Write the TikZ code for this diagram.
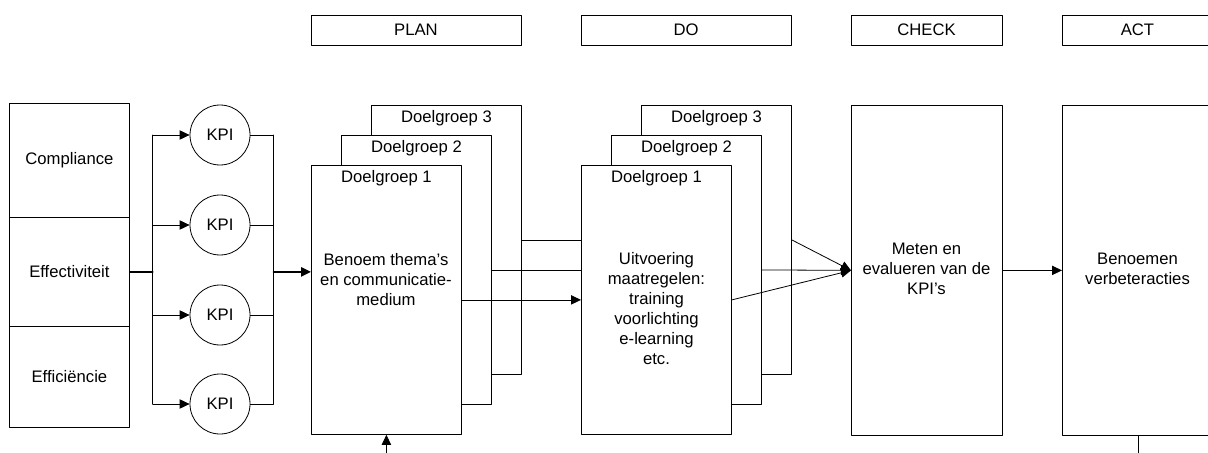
\documentclass[tikz,border=0pt]{standalone}
\usepackage{fontspec}
\setmainfont{Liberation Sans}
\usetikzlibrary{arrows.meta,shapes,positioning,calc}

\begin{document}
\begin{tikzpicture}[x=0.75pt,y=-0.75pt,line cap=round,line join=round,
        >={Triangle[length=7.5pt,width=7pt]},line width=0.6pt,
        every node/.style={font=\fontsize{12.5}{15}\selectfont},
        hdr/.style={draw,rectangle,minimum height=22.5pt,inner sep=0pt},
        cell/.style={draw,rectangle,minimum width=90pt,inner sep=0pt,anchor=north west},
        kpi/.style={draw,circle,minimum size=45pt,inner sep=0pt},
        stack/.style={draw,fill=white,rectangle,minimum width=112.5pt,minimum height=201.75pt,inner sep=0pt,anchor=north west},
        phase/.style={draw,rectangle,minimum width=113.25pt,minimum height=247.5pt,inner sep=0pt,anchor=north west},
        txt/.style={align=center,inner sep=0pt}]

        % --- Frame ---
        \useasboundingbox (0,0) rectangle (1208,453);
        \clip (0,0) rectangle (1208,453);

        % Phase headers
        \node[hdr,minimum width=157.5pt] (hPlan) at (416,30) {PLAN};
        \node[hdr,minimum width=157.5pt] (hDo) at (686,30) {DO};
        \node[hdr,minimum width=113.25pt] (hCheck) at (926.5,30) {CHECK};
        \node[hdr,minimum width=113.25pt] (hAct) at (1137.5,30) {ACT};

        % Aspects
        \node[cell,minimum height=85.5pt] (comp) at (9,103) {Compliance};
        \node[cell,minimum height=81.75pt] (eff) at (9,217) {Effectiviteit};
        \node[cell,minimum height=75.75pt] (effc) at (9,326) {Effici\"encie};

        % KPI's
        \foreach \i/\y in {1/135,2/225,3/315,4/404}
            \node[kpi] (kpi\i) at (220,\y) {KPI};

        \coordinate (lbus) at ($(eff.east)+(23,0)$);
        \coordinate (rbus) at ($(kpi1.east)+(23,0)$);
        \coordinate (rmid) at (rbus |- eff.east);

        \draw[line width=1.2pt] (eff.east) -- (lbus);
        \draw (lbus |- kpi1) -- (lbus |- kpi4);
        \draw (rbus |- kpi1) -- (rbus |- kpi4);
        \foreach \i in {1,...,4} {
            \draw[->] (lbus |- kpi\i) -- (kpi\i);
            \draw (kpi\i) -- (rbus |- kpi\i);
        }

        % Plan stack
        \node[stack] (planC) at (371,105) {};
        \node[stack] (planB) at (341,135) {};
        \node[stack] (planA) at (311,165) {};
        \node (planCl) at ($(planC.north)+(0,13)$) {Doelgroep 3};
        \node (planBl) at ($(planB.north)+(0,13)$) {Doelgroep 2};
        \node (planAl) at ($(planA.north)+(0,13)$) {Doelgroep 1};
        \node[txt] (planT) at (386,280) {Benoem thema's\\en communicatie-\\medium};

        \draw[->,line width=1.2pt] (rmid) -- (rmid -| planA.west);

        % Do stack
        \node[stack] (doC) at (641,105) {};
        \node[stack] (doB) at (611,135) {};
        \node[stack] (doA) at (581,165) {};
        \node (doCl) at ($(doC.north)+(0,13)$) {Doelgroep 3};
        \node (doBl) at ($(doB.north)+(0,13)$) {Doelgroep 2};
        \node (doAl) at ($(doA.north)+(0,13)$) {Doelgroep 1};
        \node[txt] (doT) at (656.5,309) {Uitvoering\\maatregelen:\\training\\voorlichting\\e-learning\\etc.};

        % Plan to do
        \draw (planC.east) -- (planC.east -| doA.west);
        \draw (planB.east) -- (planB.east -| doA.west);
        \draw[->] (planA.east) -- (planA.east -| doA.west);

        % Check and act
        \node[phase] (check) at (851,105) {};
        \node[phase] (act) at (1062,105) {};
        \node[txt] (checkT) at (926.5,269) {Meten en\\evalueren van de\\KPI's};
        \node[txt] (actT) at (1137.5,269) {Benoemen\\verbeteracties};

        % Do to check
        \draw[->] (doC.east) -- (check.west);
        \draw[->] (doB.east) -- (check.west);
        \draw[->] (doA.east) -- (check.west);

        \draw[->] (check.east) -- (act.west);

        % Back to plan
        \draw[->] (act.south) -- ++(0,40) -| (planA.south);

    \end{tikzpicture}
\end{document}
